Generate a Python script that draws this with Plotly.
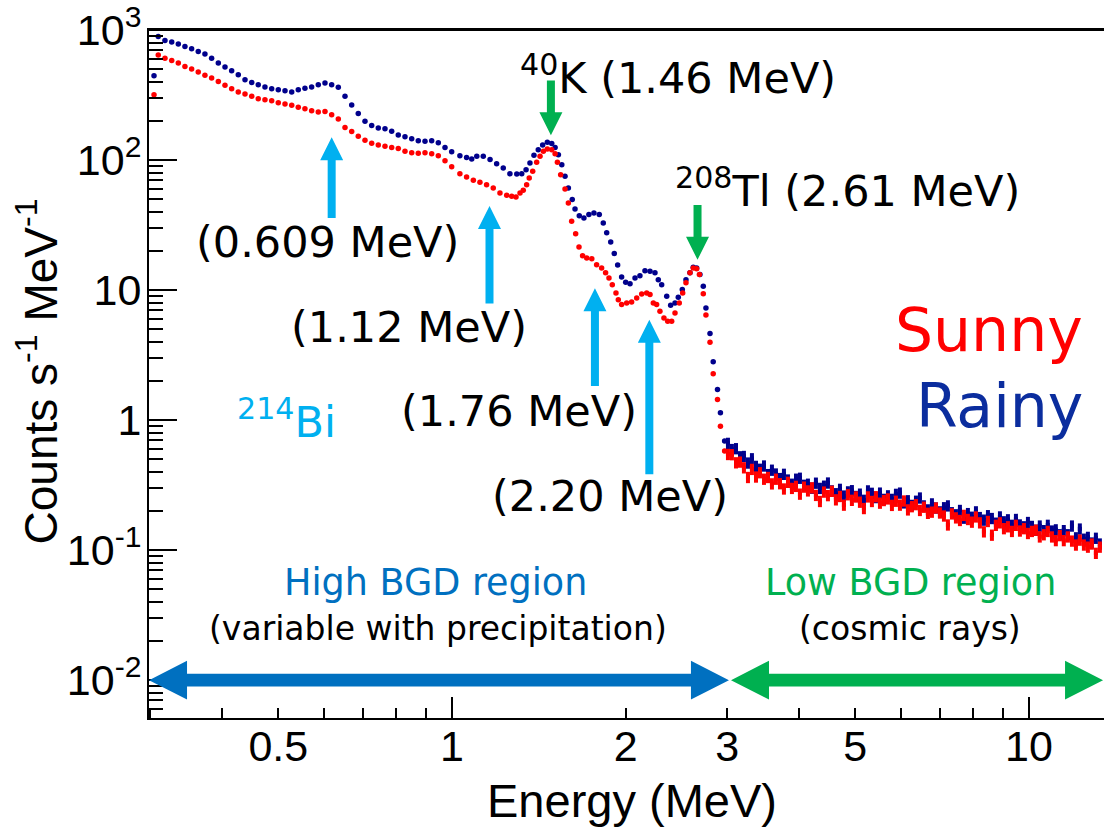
import math
import plotly.graph_objects as go

# ---------------- data ----------------
# smooth part of the spectra (< 3 MeV)
rainy_energy = [0.3045, 0.3097, 0.3181, 0.3268, 0.3355, 0.3445, 0.3538, 0.3633, 0.3731, 0.3832,
                0.3936, 0.4042, 0.4151, 0.4262, 0.4378, 0.4497, 0.4616, 0.4741, 0.4870, 0.5000,
                0.5136, 0.5275, 0.5415, 0.5561, 0.5712, 0.5865, 0.6024, 0.6187, 0.6353, 0.6525,
                0.6702, 0.6880, 0.7067, 0.7258, 0.7452, 0.7654, 0.7861, 0.8071, 0.8290, 0.8515,
                0.8741, 0.8979, 0.9222, 0.9469, 0.9725, 0.9988,
                1.032, 1.060, 1.082, 1.104, 1.133, 1.164, 1.195, 1.227, 1.260, 1.295,
                1.321, 1.344, 1.365, 1.387, 1.411, 1.436, 1.463, 1.489, 1.509, 1.529,
                1.550, 1.570, 1.591, 1.616, 1.634, 1.662, 1.693, 1.727, 1.762, 1.800,
                1.829, 1.854, 1.884, 1.911, 1.937, 1.968, 2.000, 2.035, 2.076, 2.117,
                2.160, 2.204, 2.248, 2.278, 2.309, 2.356, 2.393, 2.435, 2.467, 2.507,
                2.544, 2.585, 2.619, 2.655, 2.690, 2.726, 2.755, 2.800, 2.836, 2.885,
                2.919, 2.968]
rainy_rate = [446, 894, 834, 809, 781, 749, 718, 686, 654, 609,
              558, 520, 487, 454, 415, 396, 380, 365, 354, 348,
              342, 334, 348, 358, 365, 380, 392, 380, 363, 310,
              265, 228, 199, 185, 177, 174, 167, 156, 151, 146,
              141, 140, 141, 136, 125, 116,
              108, 105, 102, 107, 107, 101, 93.9, 87.0, 78.6, 78.2,
              78.6, 84.4, 95.0, 109, 120, 131, 137, 134, 125, 110,
              92.2, 75.1, 61.0, 49.7, 42.1, 37.4, 35.9, 38.1, 39.2, 38.1,
              32.9, 27.6, 23.5, 19.1, 15.6, 12.6, 11.5, 11.2, 12.4, 12.9,
              14.1, 14.0, 13.6, 12.0, 11.0, 8.98, 7.66, 7.97, 8.82, 10.1,
              12.0, 13.6, 15.0, 14.8, 13.2, 10.7, 7.30, 4.63, 2.81, 1.72,
              1.14, 0.690]

sunny_energy = [0.3045, 0.3097, 0.3181, 0.3268, 0.3355, 0.3445, 0.3538, 0.3633, 0.3731, 0.3832,
                0.3936, 0.4042, 0.4151, 0.4262, 0.4378, 0.4497, 0.4616, 0.4741, 0.4870, 0.5000,
                0.5136, 0.5275, 0.5415, 0.5561, 0.5712, 0.5865, 0.6024, 0.6187, 0.6353, 0.6525,
                0.6702, 0.6880, 0.7067, 0.7258, 0.7452, 0.7654, 0.7861, 0.8071, 0.8290, 0.8515,
                0.8741, 0.8979, 0.9222, 0.9469, 0.9725, 0.9988,
                1.032, 1.060, 1.089, 1.118, 1.148, 1.179, 1.211, 1.244, 1.269, 1.291,
                1.312, 1.329, 1.347, 1.361, 1.380, 1.402, 1.421, 1.440, 1.463, 1.489,
                1.509, 1.523, 1.543, 1.570, 1.591, 1.612, 1.638, 1.660, 1.684, 1.712,
                1.747, 1.781, 1.817, 1.846, 1.871, 1.896, 1.924, 1.942, 1.968, 2.008,
                2.048, 2.090, 2.132, 2.175, 2.204, 2.233, 2.263, 2.293, 2.330, 2.365,
                2.403, 2.435, 2.477, 2.511, 2.544, 2.585, 2.619, 2.655, 2.684, 2.726,
                2.755, 2.800, 2.836, 2.885, 2.919, 2.968]
sunny_rate = [318, 643, 609, 585, 558, 526, 502, 476, 449, 428,
              403, 376, 354, 334, 322, 310, 297, 292, 286, 276,
              270, 264, 255, 248, 240, 235, 237, 223, 207, 178,
              166, 153, 142, 135, 131, 128, 125, 123, 117, 114,
              113, 114, 112, 108, 99, 89,
              78.6, 74.2, 70.0, 67.5, 64.7, 61.0, 55.9, 53.7, 52.7, 52.1,
              55.9, 58.6, 64.7, 72.9, 82.0, 96.2, 107, 117, 122, 120,
              112, 96.2, 77.2, 60.0, 46.8, 33.9, 27.1, 21.5, 18.4, 17.7,
              17.4, 15.7, 14.8, 13.6, 12.4, 11.0, 9.52, 8.45, 7.74, 7.97,
              8.12, 8.71, 9.35, 9.52, 9.24, 7.97, 7.74, 6.89, 6.11, 5.77,
              5.77, 6.68, 7.97, 9.52, 11.4, 13.6, 14.8, 14.6, 13.2, 9.40,
              6.44, 3.98, 2.27, 1.44, 0.899, 0.578]

# low-rate tail (> 3 MeV), shown with error bars
tail_energy = [3.008, 3.056, 3.106, 3.156, 3.206, 3.258, 3.310, 3.364, 3.418, 3.473,
               3.529, 3.585, 3.643, 3.702, 3.761, 3.822, 3.883, 3.946, 4.009, 4.074,
               4.139, 4.206, 4.273, 4.342, 4.412, 4.483, 4.555, 4.628, 4.703, 4.778,
               4.855, 4.933, 5.013, 5.093, 5.175, 5.259, 5.343, 5.429, 5.517, 5.605,
               5.696, 5.787, 5.880, 5.975, 6.071, 6.169, 6.268, 6.369, 6.471, 6.575,
               6.681, 6.789, 6.898, 7.009, 7.122, 7.236, 7.353, 7.471, 7.591, 7.713,
               7.837, 7.963, 8.092, 8.222, 8.354, 8.489, 8.625, 8.764, 8.905, 9.048,
               9.194, 9.342, 9.492, 9.645, 9.800, 9.958, 10.12, 10.28, 10.44, 10.61,
               10.78, 10.96, 11.13, 11.31, 11.49, 11.68, 11.87, 12.06, 12.25, 12.45,
               12.65, 12.85, 13.06, 13.27]
rainy_tail = [0.666, 0.597, 0.606, 0.525, 0.528, 0.470, 0.507, 0.443, 0.421, 0.446,
              0.383, 0.414, 0.387, 0.357, 0.385, 0.348, 0.323, 0.353, 0.359, 0.317,
              0.323, 0.301, 0.329, 0.300, 0.312, 0.330, 0.287, 0.273, 0.295, 0.262,
              0.282, 0.288, 0.260, 0.271, 0.243, 0.287, 0.275, 0.255, 0.276, 0.247,
              0.263, 0.247, 0.270, 0.276, 0.232, 0.241, 0.222, 0.239, 0.253, 0.220,
              0.205, 0.228, 0.212, 0.198, 0.213, 0.220, 0.195, 0.188, 0.203, 0.177,
              0.192, 0.180, 0.198, 0.179, 0.171, 0.185, 0.176, 0.162, 0.181, 0.166,
              0.172, 0.156, 0.173, 0.157, 0.152, 0.164, 0.153, 0.143, 0.154, 0.142,
              0.156, 0.141, 0.144, 0.132, 0.142, 0.132, 0.154, 0.125, 0.146, 0.122,
              0.126, 0.114, 0.124, 0.112]
sunny_tail = [0.547, 0.545, 0.472, 0.478, 0.432, 0.364, 0.420, 0.367, 0.396, 0.353,
              0.364, 0.325, 0.353, 0.326, 0.297, 0.334, 0.300, 0.311, 0.271, 0.307,
              0.287, 0.303, 0.265, 0.238, 0.281, 0.264, 0.285, 0.245, 0.260, 0.223,
              0.268, 0.243, 0.258, 0.235, 0.210, 0.258, 0.238, 0.259, 0.231, 0.242,
              0.249, 0.222, 0.239, 0.223, 0.240, 0.205, 0.217, 0.225, 0.203, 0.215,
              0.193, 0.197, 0.212, 0.194, 0.184, 0.157, 0.191, 0.178, 0.170, 0.186,
              0.173, 0.165, 0.181, 0.163, 0.139, 0.167, 0.131, 0.156, 0.163, 0.147,
              0.152, 0.140, 0.156, 0.141, 0.147, 0.135, 0.140, 0.143, 0.127, 0.132,
              0.140, 0.127, 0.119, 0.130, 0.119, 0.127, 0.118, 0.110, 0.120, 0.110,
              0.106, 0.112, 0.095, 0.106]

# axis ticks
x_tick_vals = [0.5, 1, 2, 3, 5, 10]
x_tick_text = ["0.5", "1", "2", "3", "5", "10"]
x_long_ticks = [1, 10]
x_minor_vals = [0.3, 0.4, 0.6, 0.7, 0.8, 0.9, 4, 6, 7, 8, 9]
y_tick_vals = [0.01, 0.1, 1, 10, 100, 1000]
y_tick_text = ["10<sup>-2</sup>", "10<sup>-1</sup>", "1", "10", "10<sup>2</sup>", "10<sup>3</sup>"]
y_minor_vals = [m * 10.0 ** k for k in range(-3, 3) for m in range(2, 10)]

# peak markers: (tip energy MeV, tip rate, arrow length px, direction +1 = points up)
bi_arrows = [(0.6187, 150.0, 81, 1), (1.1615, 44.4, 98, 1), (1.769, 10.32, 98, 1), (2.198, 5.91, 155, 1)]
green_arrows = [(1.484, 155.4, 55, -1), (2.664, 17.13, 55, -1)]
# energy-region arrows: (E_start, E_end) in MeV, drawn at the 10^-2 level
high_bgd_span = (0.2985, 3.02)
low_bgd_span = (3.045, 13.45)
region_level = 0.01

# ---------------- style ----------------
RAINY = "#00008c"
SUNNY = "#ff0000"
BI = "#00b0f0"
GREEN = "#00b050"
HIBLUE = "#0070c0"
ANN_FONT = "DejaVu Sans"
AX_FONT = "Liberation Sans"

W, H = 1104, 828
ML, MR, MT, MB = 149, 0, 27, 110
xrange = [-0.5251, 1.1300]
yrange = [-2.291, 3.001]
PW, PH = W - ML - MR, H - MT - MB

fig = go.Figure()
fig.add_trace(go.Scatter(x=rainy_energy, y=rainy_rate, mode="markers",
                         marker=dict(size=5.5, color=RAINY, symbol="circle", line=dict(width=0)),
                         showlegend=False, hoverinfo="skip"))
fig.add_trace(go.Scatter(x=sunny_energy, y=sunny_rate, mode="markers",
                         marker=dict(size=5.5, color=SUNNY, symbol="circle", line=dict(width=0)),
                         showlegend=False, hoverinfo="skip"))
fig.add_trace(go.Scatter(x=tail_energy, y=rainy_tail, mode="markers",
                         marker=dict(size=4, color=RAINY, symbol="square", line=dict(width=0)),
                         error_y=dict(type="percent", value=10, thickness=4, width=0, color=RAINY),
                         showlegend=False, hoverinfo="skip"))
fig.add_trace(go.Scatter(x=tail_energy, y=sunny_tail, mode="markers",
                         marker=dict(size=4, color=SUNNY, symbol="square", line=dict(width=0)),
                         error_y=dict(type="percent", value=10, thickness=4, width=0, color=SUNNY),
                         showlegend=False, hoverinfo="skip"))
# carrier trace for the overlay axis holding the long ticks
fig.add_trace(go.Scatter(x=[None], y=[None], xaxis="x2", mode="markers",
                         showlegend=False, hoverinfo="skip"))


# ---- arrow shapes (paper coordinates) ----
def to_paper_x(e):
    return (math.log10(e) - xrange[0]) / (xrange[1] - xrange[0])


def to_paper_y(v):
    return (math.log10(v) - yrange[0]) / (yrange[1] - yrange[0])


def vertical_arrow(e, v, length, direction, color, shaft=8, head_w=23, head_l=23):
    x0 = to_paper_x(e)
    y0 = to_paper_y(v)
    sx = shaft / 2 / PW
    hx = head_w / 2 / PW
    d = -direction  # paper y grows upward; an "up" arrow has its body below the tip
    hl = d * head_l / PH
    ln = d * length / PH
    pts = [(x0, y0), (x0 + hx, y0 + hl), (x0 + sx, y0 + hl), (x0 + sx, y0 + ln),
           (x0 - sx, y0 + ln), (x0 - sx, y0 + hl), (x0 - hx, y0 + hl)]
    path = "M " + " L ".join(f"{px:.5f},{py:.5f}" for px, py in pts) + " Z"
    return dict(type="path", xref="paper", yref="paper", path=path,
                fillcolor=color, line=dict(width=0), layer="above")


def double_arrow(e0, e1, v, color, shaft=12.7, head_w=39, head_l=38):
    xa = max(to_paper_x(e0), 0.0)
    xb = min(to_paper_x(e1), 0.999)
    yc = to_paper_y(v)
    sy = shaft / 2 / PH
    hy = head_w / 2 / PH
    hl = head_l / PW
    pts = [(xa, yc), (xa + hl, yc + hy), (xa + hl, yc + sy), (xb - hl, yc + sy),
           (xb - hl, yc + hy), (xb, yc), (xb - hl, yc - hy), (xb - hl, yc - sy),
           (xa + hl, yc - sy), (xa + hl, yc - hy)]
    path = "M " + " L ".join(f"{px:.5f},{py:.5f}" for px, py in pts) + " Z"
    return dict(type="path", xref="paper", yref="paper", path=path,
                fillcolor=color, line=dict(width=0), layer="above")


shapes = [dict(type="line", xref="paper", yref="paper", x0=0, x1=1, y0=1, y1=1,
               line=dict(color="black", width=2))]
for e, v, ln, dr in bi_arrows:
    shapes.append(vertical_arrow(e, v, ln, dr, BI))
for e, v, ln, dr in green_arrows:
    shapes.append(vertical_arrow(e, v, ln, dr, GREEN))
shapes.append(double_arrow(high_bgd_span[0], high_bgd_span[1], region_level, HIBLUE))
shapes.append(double_arrow(low_bgd_span[0], low_bgd_span[1], region_level, GREEN))

fig.update_layout(
    width=W, height=H,
    margin=dict(l=ML, r=MR, t=MT, b=MB),
    paper_bgcolor="white", plot_bgcolor="white",
    showlegend=False,
    xaxis=dict(type="log", range=xrange, showgrid=False, zeroline=False,
               showline=True, linecolor="black", linewidth=2, mirror=True,
               ticks="inside", ticklen=10, tickwidth=1.5, tickcolor="black",
               tickmode="array", tickvals=x_tick_vals, ticktext=x_tick_text,
               ticklabelstandoff=-11, ticklabeloverflow="allow",
               tickfont=dict(family=AX_FONT, size=43, color="black"),
               minor=dict(ticks="inside", ticklen=10, tickwidth=1.5, tickcolor="black",
                          tickmode="array", tickvals=x_minor_vals, showgrid=False)),
    xaxis2=dict(type="log", range=xrange, overlaying="x", anchor="y", side="bottom",
                showgrid=False, zeroline=False, showline=False,
                ticks="inside", ticklen=21, tickwidth=1.5, tickcolor="black",
                tickmode="array", tickvals=x_long_ticks, showticklabels=False),
    yaxis=dict(type="log", range=yrange, showgrid=False, zeroline=False,
               showline=True, linecolor="black", linewidth=2, mirror=False,
               ticks="inside", ticklen=28, tickwidth=1.5, tickcolor="black",
               tickmode="array", tickvals=y_tick_vals, ticktext=y_tick_text,
               ticklabelstandoff=-3, ticklabeloverflow="allow",
               tickfont=dict(family=AX_FONT, size=43, color="black"),
               minor=dict(ticks="inside", ticklen=14, tickwidth=1.5, tickcolor="black",
                          tickmode="array", tickvals=y_minor_vals, showgrid=False)),
    shapes=shapes,
)

ann = []


def txt(s, x, y, size, color="black", xa="center", ya="middle", fam=ANN_FONT, angle=0):
    ann.append(dict(text=s, x=x, y=y, xref="paper", yref="paper", showarrow=False,
                    xanchor=xa, yanchor=ya, textangle=angle,
                    font=dict(family=fam, size=size, color=color)))


txt("(0.609 MeV)", 0.1874, 0.6918, 43)
txt("(1.12 MeV)", 0.2718, 0.5687, 43)
txt("(1.76 MeV)", 0.3874, 0.4457, 43)
txt("(2.20 MeV)", 0.4827, 0.3227, 43)
txt("<sup>214</sup>Bi", 0.1435, 0.4342, 43, color=BI)
txt("<sup>40</sup>K (1.46 MeV)", 0.3859, 0.9349, 43, xa="left")
txt("<sup>208</sup>Tl (2.61 MeV)", 0.5486, 0.7700, 43, xa="left")
txt("Sunny", 0.9801, 0.5644, 60, color=SUNNY, xa="right")
txt("Rainy", 0.9801, 0.4530, 60, color="#0b2d9e", xa="right")
txt("High BGD region", 0.3005, 0.1968, 36.5, color=HIBLUE)
txt("(variable with precipitation)", 0.3026, 0.1302, 33)
txt("Low BGD region", 0.7969, 0.1968, 36.5, color=GREEN)
txt("(cosmic rays)", 0.7969, 0.1302, 33)
txt("Energy (MeV)", 0.5058, -0.1201, 47, fam=AX_FONT)
txt("Counts s<sup>-1</sup> MeV<sup>-1</sup>", -0.1173, 0.5036, 46, fam=AX_FONT, angle=-90)

fig.update_layout(annotations=ann)
fig.write_html("out.html", config={"displayModeBar": False},
               post_script="document.body.style.margin='0px';document.body.style.overflow='hidden';")
